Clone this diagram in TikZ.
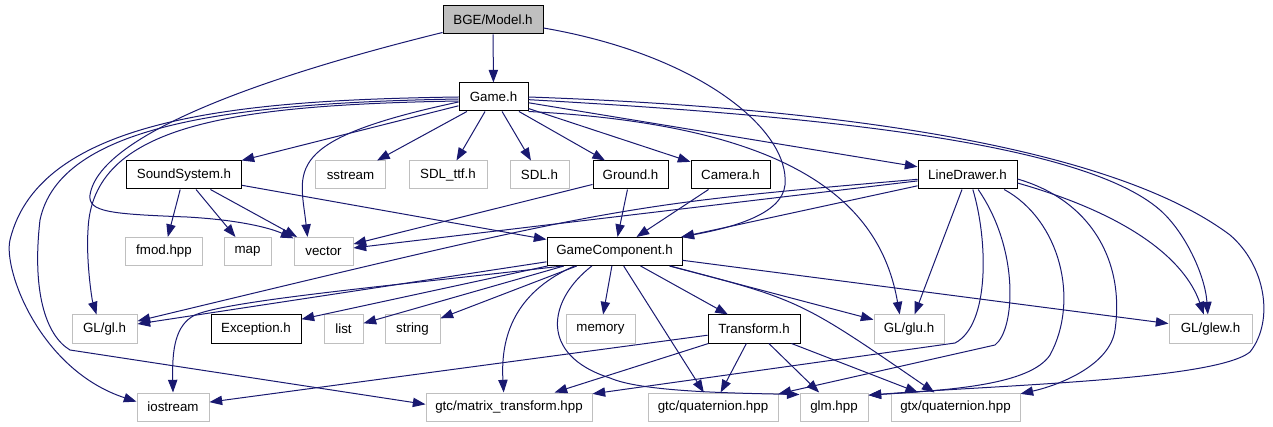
\documentclass[tikz,border=0pt]{standalone}
\usepackage{fontspec}
\setmainfont{Liberation Sans}
\usetikzlibrary{arrows.meta}
\definecolor{edgec}{RGB}{25,25,112}
\definecolor{grayb}{RGB}{191,191,191}
\begin{document}
\begin{tikzpicture}[x=0.75pt,y=-0.75pt,
 box/.style={draw=black, fill=white, line width=0.75pt, inner sep=0pt, minimum height=21pt, font=\fontsize{10pt}{12pt}\selectfont},
 sys/.style={box, draw=grayb},
 w/.style={minimum width=#1*0.75pt},
 edge/.style={draw=edgec, line width=0.75pt, -{Triangle[length=9.5pt,width=7pt]}}]
\useasboundingbox (0,0) rectangle (1273,427);
% nodes
\node[box,w=100,fill=grayb] (model) at (493,20) {BGE/Model.h};
\node[box,w=69] (game) at (493.5,97) {Game.h};
\node[box,w=115] (sound) at (184,175) {SoundSystem.h};
\node[sys,w=70] (sstream) at (350.5,175) {sstream};
\node[sys,w=78] (sdlttf) at (448,175) {SDL\_ttf.h};
\node[sys,w=59] (sdl) at (539.5,175) {SDL.h};
\node[box,w=75] (ground) at (630.5,175) {Ground.h};
\node[box,w=79] (camera) at (730.5,175) {Camera.h};
\node[box,w=99] (line) at (967.5,175) {LineDrawer.h};
\node[sys,w=77] (fmod) at (164,251.5) {fmod.hpp};
\node[sys,w=47] (map) at (247.5,251.5) {map};
\node[sys,w=59] (vector) at (323.5,251.5) {vector};
\node[box,w=135] (gc) at (614.5,251.5) {GameComponent.h};
\node[sys,w=65] (gl) at (104.5,329) {GL/gl.h};
\node[box,w=90] (exc) at (256,329) {Exception.h};
\node[sys,w=39] (list) at (343.5,329) {list};
\node[sys,w=55] (string) at (412.5,329) {string};
\node[sys,w=69] (memory) at (600.5,329) {memory};
\node[box,w=92] (tr) at (754,329) {Transform.h};
\node[sys,w=70] (glu) at (909,329) {GL/glu.h};
\node[sys,w=83] (glew) at (1210.5,329) {GL/glew.h};
\node[sys,w=72] (iostream) at (173,407) {iostream};
\node[sys,w=166] (matrix) at (509,407) {gtc/matrix\_transform.hpp};
\node[sys,w=130] (gtcq) at (713,407) {gtc/quaternion.hpp};
\node[sys,w=68] (glm) at (834,407) {glm.hpp};
\node[sys,w=129] (gtxq) at (955.5,407) {gtx/quaternion.hpp};
% Model
\draw[edge] (model) -- (game);
\draw[edge] ([yshift=1.5pt]model.south west) .. controls (290,70) and (100,130) .. (90,195) .. controls (88,212) and (110,214) .. (187,217) .. controls (240,220) and (270,228) .. ([yshift=-1pt]vector.north west);
\draw[edge] ([yshift=-6pt]model.east) .. controls (700,55) and (790,130) .. (785,185) .. controls (782,215) and (730,228) .. ([xshift=-1pt]gc.north east);
% Game
\draw[edge] (game) -- (sound);
\draw[edge] (game) -- (sstream);
\draw[edge] (game) -- (sdlttf);
\draw[edge] (game) -- (sdl);
\draw[edge] (game) -- (ground);
\draw[edge] (game) -- (camera);
\draw[edge] (game) -- (line);
\draw[edge] ([yshift=-3.75pt]game.west) .. controls (280,140) and (300,170) .. ([xshift=-12pt]vector.north);
\draw[edge] ([yshift=-3pt]game.west) .. controls (230,105) and (92,125) .. (88,230) .. controls (86,262) and (92,300) .. ([xshift=-6pt]gl.north);
\draw[edge] (game.west) .. controls (250,100) and (40,115) .. (10,240) .. controls (3,270) and (40,370) .. ([yshift=4pt]iostream.west);
\draw[edge] ([yshift=-1.5pt]game.west) .. controls (230,103) and (60,125) .. (40,220) .. controls (32,290) and (45,335) .. (70,350) -- ([yshift=2pt]matrix.west);
\draw[edge] (game.south east) .. controls (790,125) and (880,200) .. ([xshift=-7pt]glu.north);
\draw[edge] ([yshift=-2pt]game.east) .. controls (800,115) and (1080,140) .. (1160,210) .. controls (1185,232) and (1205,275) .. ([xshift=-2pt]glew.north);
\draw[edge] (game.east) .. controls (900,110) and (1130,160) .. (1230,235) .. controls (1265,265) and (1275,320) .. (1250,352) .. controls (1215,380) and (1000,385) .. ([yshift=-2pt]glm.north east);
% SoundSystem
\draw[edge] (sound) -- (fmod);
\draw[edge] (sound) -- (map);
\draw[edge] (sound) -- (vector);
\draw[edge] (sound) -- (gc);
% Ground, Camera
\draw[edge] (ground) -- (vector);
\draw[edge] (ground) -- (gc);
\draw[edge] (camera) -- (gc);
% LineDrawer
\draw[edge] (line) -- (gc);
\draw[edge] (line) -- (vector);
\draw[edge] (line) .. controls (620,205) .. (gl);
\draw[edge] (line) -- (glu);
\draw[edge] ([xshift=4pt]line.south) .. controls (988,240) and (990,325) .. (955,343) -- ([yshift=-1pt]matrix.north east);
\draw[edge] ([xshift=8pt]line.south) .. controls (1020,250) and (1015,330) .. (995,345) -- ([yshift=-1pt]gtcq.north east);
\draw[edge] ([xshift=-10pt]line.south east) .. controls (1060,220) and (1080,300) .. (1050,355) .. controls (1030,385) and (950,390) .. ([yshift=-2pt]glm.north east);
\draw[edge] ([yshift=-3pt]line.east) .. controls (1090,200) and (1125,260) .. (1115,330) .. controls (1110,365) and (1060,385) .. ([yshift=-1pt]gtxq.north east);
\draw[edge] ([yshift=-6pt]line.east) .. controls (1130,215) and (1185,260) .. ([xshift=-5pt]glew.north);
% GameComponent
\draw[edge] (gc) -- (gl);
\draw[edge] (gc) -- (exc);
\draw[edge] (gc) -- (list);
\draw[edge] (gc) -- (string);
\draw[edge] (gc) -- (memory);
\draw[edge] (gc) -- (tr);
\draw[edge] (gc) -- (glu);
\draw[edge] (gc) -- (glew);
\draw[edge] (gc) -- (gtcq);
\draw[edge] ([xshift=12pt]gc.south west) .. controls (400,285) and (230,300) .. (195,315) .. controls (175,325) and (172,350) .. (iostream.north);
\draw[edge] ([xshift=21pt]gc.south west) .. controls (520,290) and (500,330) .. ([xshift=-4pt]matrix.north);
\draw[edge] ([xshift=-17pt]gc.south) .. controls (548,300) and (538,355) .. (610,378) .. controls (640,391) and (720,393) .. ([yshift=-1.5pt]glm.north west);
\draw[edge] (gc) .. controls (800,300) .. (gtxq);
% Transform
\draw[edge] (tr) -- (iostream);
\draw[edge] (tr) -- (matrix);
\draw[edge] (tr) -- (gtcq);
\draw[edge] (tr) -- (glm);
\draw[edge] (tr) -- (gtxq);
\end{tikzpicture}
\end{document}
